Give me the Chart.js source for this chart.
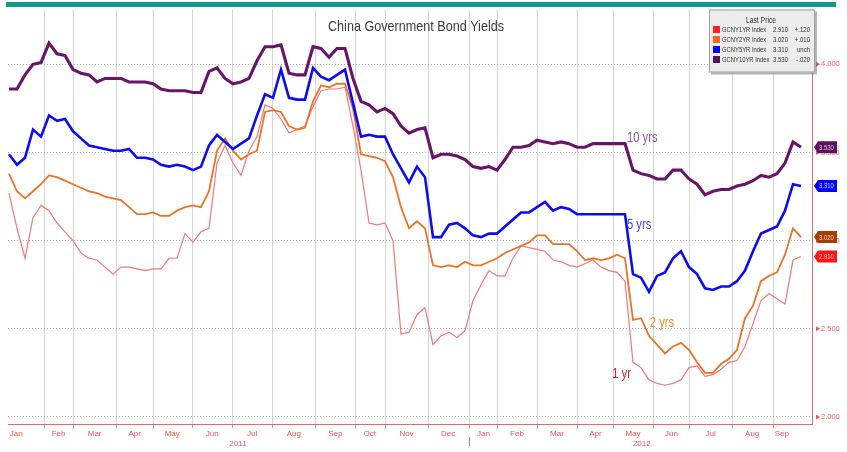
<!DOCTYPE html>
<html>
<head>
<meta charset="utf-8">
<title>China Government Bond Yields</title>
<script src="https://cdn.jsdelivr.net/npm/chart.js@4.4.1/dist/chart.umd.min.js"></script>
<style>
  html, body { margin: 0; padding: 0; background: #fff; }
  canvas { display: block; }
</style>
</head>
<body>
<canvas id="myChart" width="847" height="452"></canvas>
<script>
/* global Chart */

// weekly closes, Jan 2011 - Sep 2012 (%)
const yld1y = [
  3.27, 3.07, 2.90, 3.13, 3.20, 3.17, 3.10, 3.05, 3.00, 2.93,
  2.90, 2.89, 2.85, 2.81, 2.85, 2.85, 2.84, 2.83, 2.84, 2.84,
  2.90, 2.90, 3.04, 2.99, 3.05, 3.07, 3.44, 3.54, 3.44, 3.37,
  3.51, 3.59, 3.77, 3.75, 3.69, 3.61, 3.63, 3.65, 3.76, 3.85,
  3.86, 3.86, 3.87, 3.65, 3.40, 3.10, 3.09, 3.10, 3.00, 2.47,
  2.48, 2.58, 2.62, 2.41, 2.46, 2.48, 2.45, 2.49, 2.66, 2.75,
  2.83, 2.80, 2.80, 2.90, 2.97, 2.96, 2.95, 2.94, 2.89, 2.88,
  2.86, 2.85, 2.87, 2.89, 2.85, 2.83, 2.82, 2.77, 2.31, 2.28,
  2.21, 2.19, 2.18, 2.19, 2.21, 2.28, 2.29, 2.23, 2.24, 2.27,
  2.31, 2.32, 2.40, 2.53, 2.66, 2.70, 2.67, 2.64, 2.89, 2.91
];
const yld2y = [
  3.38, 3.28, 3.24, 3.28, 3.32, 3.37, 3.36, 3.34, 3.32, 3.30,
  3.28, 3.27, 3.25, 3.24, 3.23, 3.19, 3.15, 3.15, 3.16, 3.14,
  3.14, 3.17, 3.19, 3.20, 3.19, 3.28, 3.51, 3.58, 3.51, 3.46,
  3.49, 3.51, 3.73, 3.74, 3.73, 3.65, 3.63, 3.64, 3.79, 3.88,
  3.87, 3.89, 3.89, 3.75, 3.49, 3.48, 3.47, 3.45, 3.36, 3.19,
  3.07, 3.11, 3.07, 2.86, 2.85, 2.86, 2.85, 2.88, 2.86, 2.86,
  2.88, 2.90, 2.93, 2.95, 2.97, 2.99, 3.03, 3.03, 2.98, 2.98,
  2.98, 2.94, 2.89, 2.90, 2.89, 2.90, 2.92, 2.90, 2.55, 2.56,
  2.46, 2.41, 2.36, 2.40, 2.42, 2.38, 2.31, 2.25, 2.25, 2.30,
  2.33, 2.38, 2.56, 2.63, 2.77, 2.80, 2.82, 2.92, 3.07, 3.02
];
const yld5y = [
  3.49, 3.43, 3.47, 3.63, 3.59, 3.71, 3.68, 3.69, 3.62, 3.58,
  3.54, 3.53, 3.52, 3.51, 3.51, 3.52, 3.47, 3.47, 3.46, 3.43,
  3.42, 3.43, 3.42, 3.40, 3.42, 3.54, 3.60, 3.56, 3.52, 3.55,
  3.58, 3.71, 3.83, 3.81, 3.97, 3.81, 3.80, 3.80, 3.98, 3.93,
  3.91, 3.94, 3.97, 3.78, 3.59, 3.60, 3.59, 3.59, 3.49, 3.41,
  3.33, 3.42, 3.36, 3.02, 3.02, 3.09, 3.10, 3.07, 3.03, 3.02,
  3.04, 3.04, 3.08, 3.12, 3.16, 3.16, 3.19, 3.22, 3.17, 3.19,
  3.18, 3.15, 3.15, 3.15, 3.15, 3.15, 3.15, 3.15, 2.81, 2.79,
  2.71, 2.80, 2.82, 2.90, 2.94, 2.85, 2.81, 2.73, 2.72, 2.74,
  2.74, 2.77, 2.83, 2.94, 3.04, 3.06, 3.08, 3.17, 3.32, 3.31
];
const yld10y = [
  3.86, 3.86, 3.94, 4.00, 4.01, 4.12, 4.06, 4.05, 3.97, 3.95,
  3.94, 3.90, 3.92, 3.92, 3.92, 3.90, 3.90, 3.90, 3.89, 3.86,
  3.85, 3.85, 3.85, 3.84, 3.84, 3.96, 3.98, 3.92, 3.89, 3.90,
  3.92, 4.02, 4.10, 4.10, 4.11, 3.95, 3.94, 3.94, 4.10, 4.09,
  4.04, 4.09, 4.09, 3.92, 3.79, 3.77, 3.73, 3.75, 3.72, 3.65,
  3.61, 3.63, 3.64, 3.47, 3.49, 3.49, 3.48, 3.46, 3.42, 3.41,
  3.42, 3.40, 3.46, 3.53, 3.53, 3.54, 3.57, 3.56, 3.55, 3.56,
  3.55, 3.53, 3.53, 3.55, 3.55, 3.55, 3.55, 3.55, 3.40, 3.38,
  3.37, 3.35, 3.35, 3.40, 3.40, 3.35, 3.32, 3.26, 3.28, 3.29,
  3.29, 3.31, 3.32, 3.34, 3.37, 3.36, 3.38, 3.44, 3.56, 3.53
];

const seriesNames = ['GCNY1YR Index', 'GCNY2YR Index', 'GCNY5YR Index', 'GCNY10YR Index'];
const seriesChanges = ['+.120', '+.010', 'unch', '-.020'];
const lineNames = ['1 yr', '2 yrs', '5 yrs', '10 yrs'];
// where each line name sits: [week, yield]
const lineNamePos = [[75.4, 2.24], [80.1, 2.53], [77.25, 3.09], [77.25, 3.58]];

// month boundaries and label centres, in weeks from the first close
const monthStarts = [4.4, 8, 13.4, 18, 22.9, 27.9, 32.9, 38.3, 43.3, 47, 52.4,
  57.5, 61, 66, 71, 75.5, 80.5, 85, 90.4, 95.5];
const monthMids = [0.9, 6.2, 10.7, 15.7, 20.4, 25.4, 30.4, 35.6, 40.8, 45.1, 49.7,
  54.9, 59.3, 63.5, 68.5, 73.3, 78, 82.8, 87.7, 92.9, 96.6];
const monthLabels = ['Jan', 'Feb', 'Mar', 'Apr', 'May', 'Jun', 'Jul', 'Aug', 'Sep', 'Oct', 'Nov',
  'Dec', 'Jan', 'Feb', 'Mar', 'Apr', 'May', 'Jun', 'Jul', 'Aug', 'Sep'];
const yearMids = [28.6, 79.1];
const yearLabels = ['2011', '2012'];
const yearStart = 57.5;
const yieldTicks = [2, 2.5, 3, 3.5, 4];

const series = [yld1y, yld2y, yld5y, yld10y];
const lineColors = ['#f27878', '#ec7326', '#0c0cf4', '#66156a'];
const lineWidths = [1.2, 1.8, 2.6, 3.1];
const nameColors = ['#d42222', '#f08c2c', '#4646c8', '#9a4e9a'];
const boxColors = ['#ff2020', '#ff6420', '#0000ff', '#5a1060'];
const tagColors = ['#ff1414', '#a83e06', '#0000ff', '#5c1062'];

const FONT = '"Liberation Sans", Arial, sans-serif';
Chart.defaults.font.family = FONT;

// canvas has no narrow face here, so squeeze the text horizontally
function squeezedText(ctx, text, x, y, sx, align) {
  ctx.save();
  ctx.translate(x, y);
  ctx.scale(sx, 1);
  ctx.textAlign = align || 'left';
  ctx.fillText(text, 0, 0);
  ctx.restore();
}

const decorations = {
  id: 'decorations',
  afterDatasetsDraw(chart) {
    const { ctx, chartArea: a, scales: { x, y } } = chart;
    ctx.save();
    ctx.textBaseline = 'middle';
    ctx.font = '14px ' + FONT;
    lineNames.forEach((t, i) => {
      ctx.fillStyle = nameColors[i];
      squeezedText(ctx, t, x.getPixelForValue(lineNamePos[i][0]), y.getPixelForValue(lineNamePos[i][1]), 0.8);
    });
    ctx.fillStyle = '#3a3a3a';
    ctx.font = '15px ' + FONT;
    squeezedText(ctx, 'China Government Bond Yields', (a.left + a.right) / 2 + 6, a.top + 17, 0.84, 'center');
    ctx.restore();
  },
  afterDraw(chart) {
    const { ctx, chartArea: a, scales: { x, y } } = chart;
    ctx.save();

    // header strip
    ctx.fillStyle = '#0b9a8b';
    ctx.fillRect(6, 2, 830, 5);

    // year divider under the month labels
    const yx = Math.round(x.getPixelForValue(yearStart)) + 0.5;
    ctx.strokeStyle = '#e46a6a';
    ctx.lineWidth = 1;
    ctx.beginPath();
    ctx.moveTo(yx, a.bottom + 13);
    ctx.lineTo(yx, a.bottom + 22);
    ctx.stroke();

    // little arrow heads in front of the axis labels
    ctx.fillStyle = '#e35656';
    yieldTicks.forEach(v => {
      const py = y.getPixelForValue(v);
      ctx.beginPath();
      ctx.moveTo(a.right + 8, py);
      ctx.lineTo(a.right + 4, py - 2.5);
      ctx.lineTo(a.right + 4, py + 2.5);
      ctx.closePath();
      ctx.fill();
    });

    // last-price tags on the value axis
    ctx.font = '7px ' + FONT;
    ctx.textBaseline = 'middle';
    series.forEach((s, i) => {
      const py = y.getPixelForValue(s[s.length - 1]);
      const l = a.right + 2;
      ctx.fillStyle = tagColors[i];
      ctx.beginPath();
      ctx.moveTo(l, py);
      ctx.lineTo(l + 4, py - 6);
      ctx.lineTo(l + 23, py - 6);
      ctx.lineTo(l + 23, py + 6);
      ctx.lineTo(l + 4, py + 6);
      ctx.closePath();
      ctx.fill();
      ctx.fillStyle = 'rgba(255,255,255,0.75)';
      squeezedText(ctx, s[s.length - 1].toFixed(3), l + 5, py + 0.5, 0.85);
    });

    // last price box
    const bw = 106, bh = 63;
    const bx = a.right - 103, by = a.top;
    ctx.fillStyle = 'rgba(90,90,90,0.45)';
    ctx.fillRect(bx + 2, by + 2, bw, bh);
    ctx.fillStyle = '#ececec';
    ctx.fillRect(bx, by, bw, bh);
    ctx.strokeStyle = '#a0a0a0';
    ctx.strokeRect(bx + 0.5, by + 0.5, bw - 1, bh - 1);

    ctx.fillStyle = '#333';
    ctx.font = '8.5px ' + FONT;
    squeezedText(ctx, 'Last Price', bx + 52, by + 11, 0.8, 'center');
    ctx.font = '7.5px ' + FONT;
    series.forEach((s, i) => {
      const ry = by + 20 + 10 * i;
      ctx.fillStyle = boxColors[i];
      ctx.fillRect(bx + 4, ry - 3.5, 7, 7);
      ctx.fillStyle = '#333';
      squeezedText(ctx, seriesNames[i], bx + 13, ry, 0.78);
      squeezedText(ctx, s[s.length - 1].toFixed(3), bx + 79, ry, 0.8, 'right');
      squeezedText(ctx, seriesChanges[i], bx + 101, ry, 0.8, 'right');
    });
    ctx.restore();
  }
};

const isStart = v => monthStarts.includes(v);

const ctx = document.getElementById('myChart').getContext('2d');
const myChart = new Chart(ctx, {
  type: 'line',
  data: {
    // 10 yr first so it is painted on top
    datasets: [3, 2, 1, 0].map(i => ({
      label: seriesNames[i],
      data: series[i].map((v, k) => ({ x: k, y: v })),
      borderColor: lineColors[i],
      borderWidth: lineWidths[i],
      pointRadius: 0,
      tension: 0,
      fill: false
    }))
  },
  options: {
    responsive: false,
    animation: false,
    devicePixelRatio: 1,
    layout: { padding: { left: 8, top: 8, right: 0, bottom: 0 } },
    plugins: {
      legend: { display: false },
      tooltip: { enabled: false }
    },
    scales: {
      x: {
        type: 'linear',
        min: -0.125,
        max: 100.375,
        afterBuildTicks: s => {
          s.ticks = [...monthStarts, ...monthMids, ...yearMids]
            .sort((p, q) => p - q)
            .map(v => ({ value: v }));
        },
        afterFit: s => { s.height = 28; },
        grid: {
          color: c => (c.tick && isStart(c.tick.value)) ? '#d6d6d6' : 'rgba(0,0,0,0)',
          tickColor: c => (c.tick && isStart(c.tick.value)) ? '#a8a8a8' : 'rgba(0,0,0,0)',
          tickLength: 4
        },
        border: { color: '#e46a6a' },
        ticks: {
          autoSkip: false,
          maxRotation: 0,
          padding: 1,
          color: '#e35656',
          font: { size: 8 },
          callback: v => {
            const m = monthMids.indexOf(v);
            if (m >= 0) return monthLabels[m];
            const yr = yearMids.indexOf(v);
            if (yr >= 0) return ['', yearLabels[yr]];
            return '';
          }
        }
      },
      y: {
        position: 'right',
        min: 1.96,
        max: 4.311,
        afterBuildTicks: s => { s.ticks = yieldTicks.map(v => ({ value: v })); },
        afterFit: s => { s.width = 35; },
        grid: { color: '#b0b0b0', tickColor: 'rgba(0,0,0,0)', tickLength: 4 },
        border: { color: '#e46a6a', dash: [1, 2] },
        ticks: {
          color: '#ef6666',
          padding: 5,
          font: { size: 7.5 },
          callback: v => v.toFixed(3)
        }
      }
    }
  },
  plugins: [decorations]
});
</script>
</body>
</html>
